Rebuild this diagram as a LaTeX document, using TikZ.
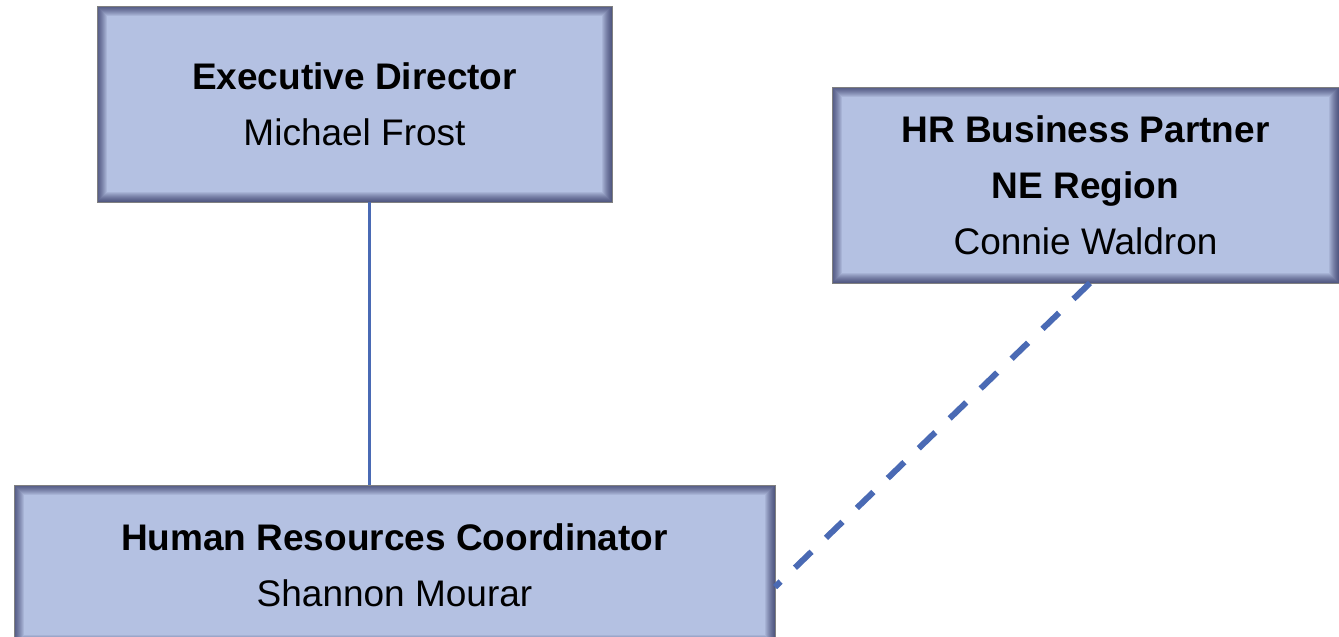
\documentclass[tikz,border=0pt]{standalone}
\usepackage{fontspec}
\setmainfont{Liberation Sans}
\usepackage{tikz}
\definecolor{postfill}{RGB}{180,193,226}
\definecolor{linkblue}{RGB}{74,106,180}

\begin{document}
\begin{tikzpicture}
		[x=1pt, y=-1pt, thick,
		 post/.style = {draw=black!50, line width=0.6pt, fill=postfill, inner sep=0pt, outer sep=0pt,
		   align=center, font=\fontsize{37}{56}\selectfont,
		   path picture={\foreach \i in {1,...,10}
		     \draw[black!80!blue, opacity=0.07, line width=\i*2pt] (path picture bounding box.south west) rectangle (path picture bounding box.north east);}},
		 solidlink/.style = {draw=linkblue, line width=3pt},
		 dashlink/.style = {draw=linkblue, line width=6pt, dash pattern=on 23pt off 20pt}]
        \useasboundingbox (0,0) rectangle (1339,637);
        \node[post, minimum width=515, minimum height=196] (exec) at (354.5,104) {\textbf{Executive Director}\\Michael Frost};
        \node[post, minimum width=507, minimum height=196] (hrbp) at (1085.5,185) {\textbf{HR Business Partner}\\\textbf{NE Region}\\Connie Waldron};
        \node[post, minimum width=761, minimum height=160] (hrc) at (394.5,565) {\textbf{Human Resources Coordinator}\\Shannon Mourar};

        \draw[solidlink] ([xshift=14.5pt]exec.south) -- ([xshift=14.5pt]exec.south |- hrc.north);
        \draw[dashlink] ([xshift=4.5pt]hrbp.south) -- ([yshift=-22pt]hrc.east);
	\end{tikzpicture}
\end{document}
